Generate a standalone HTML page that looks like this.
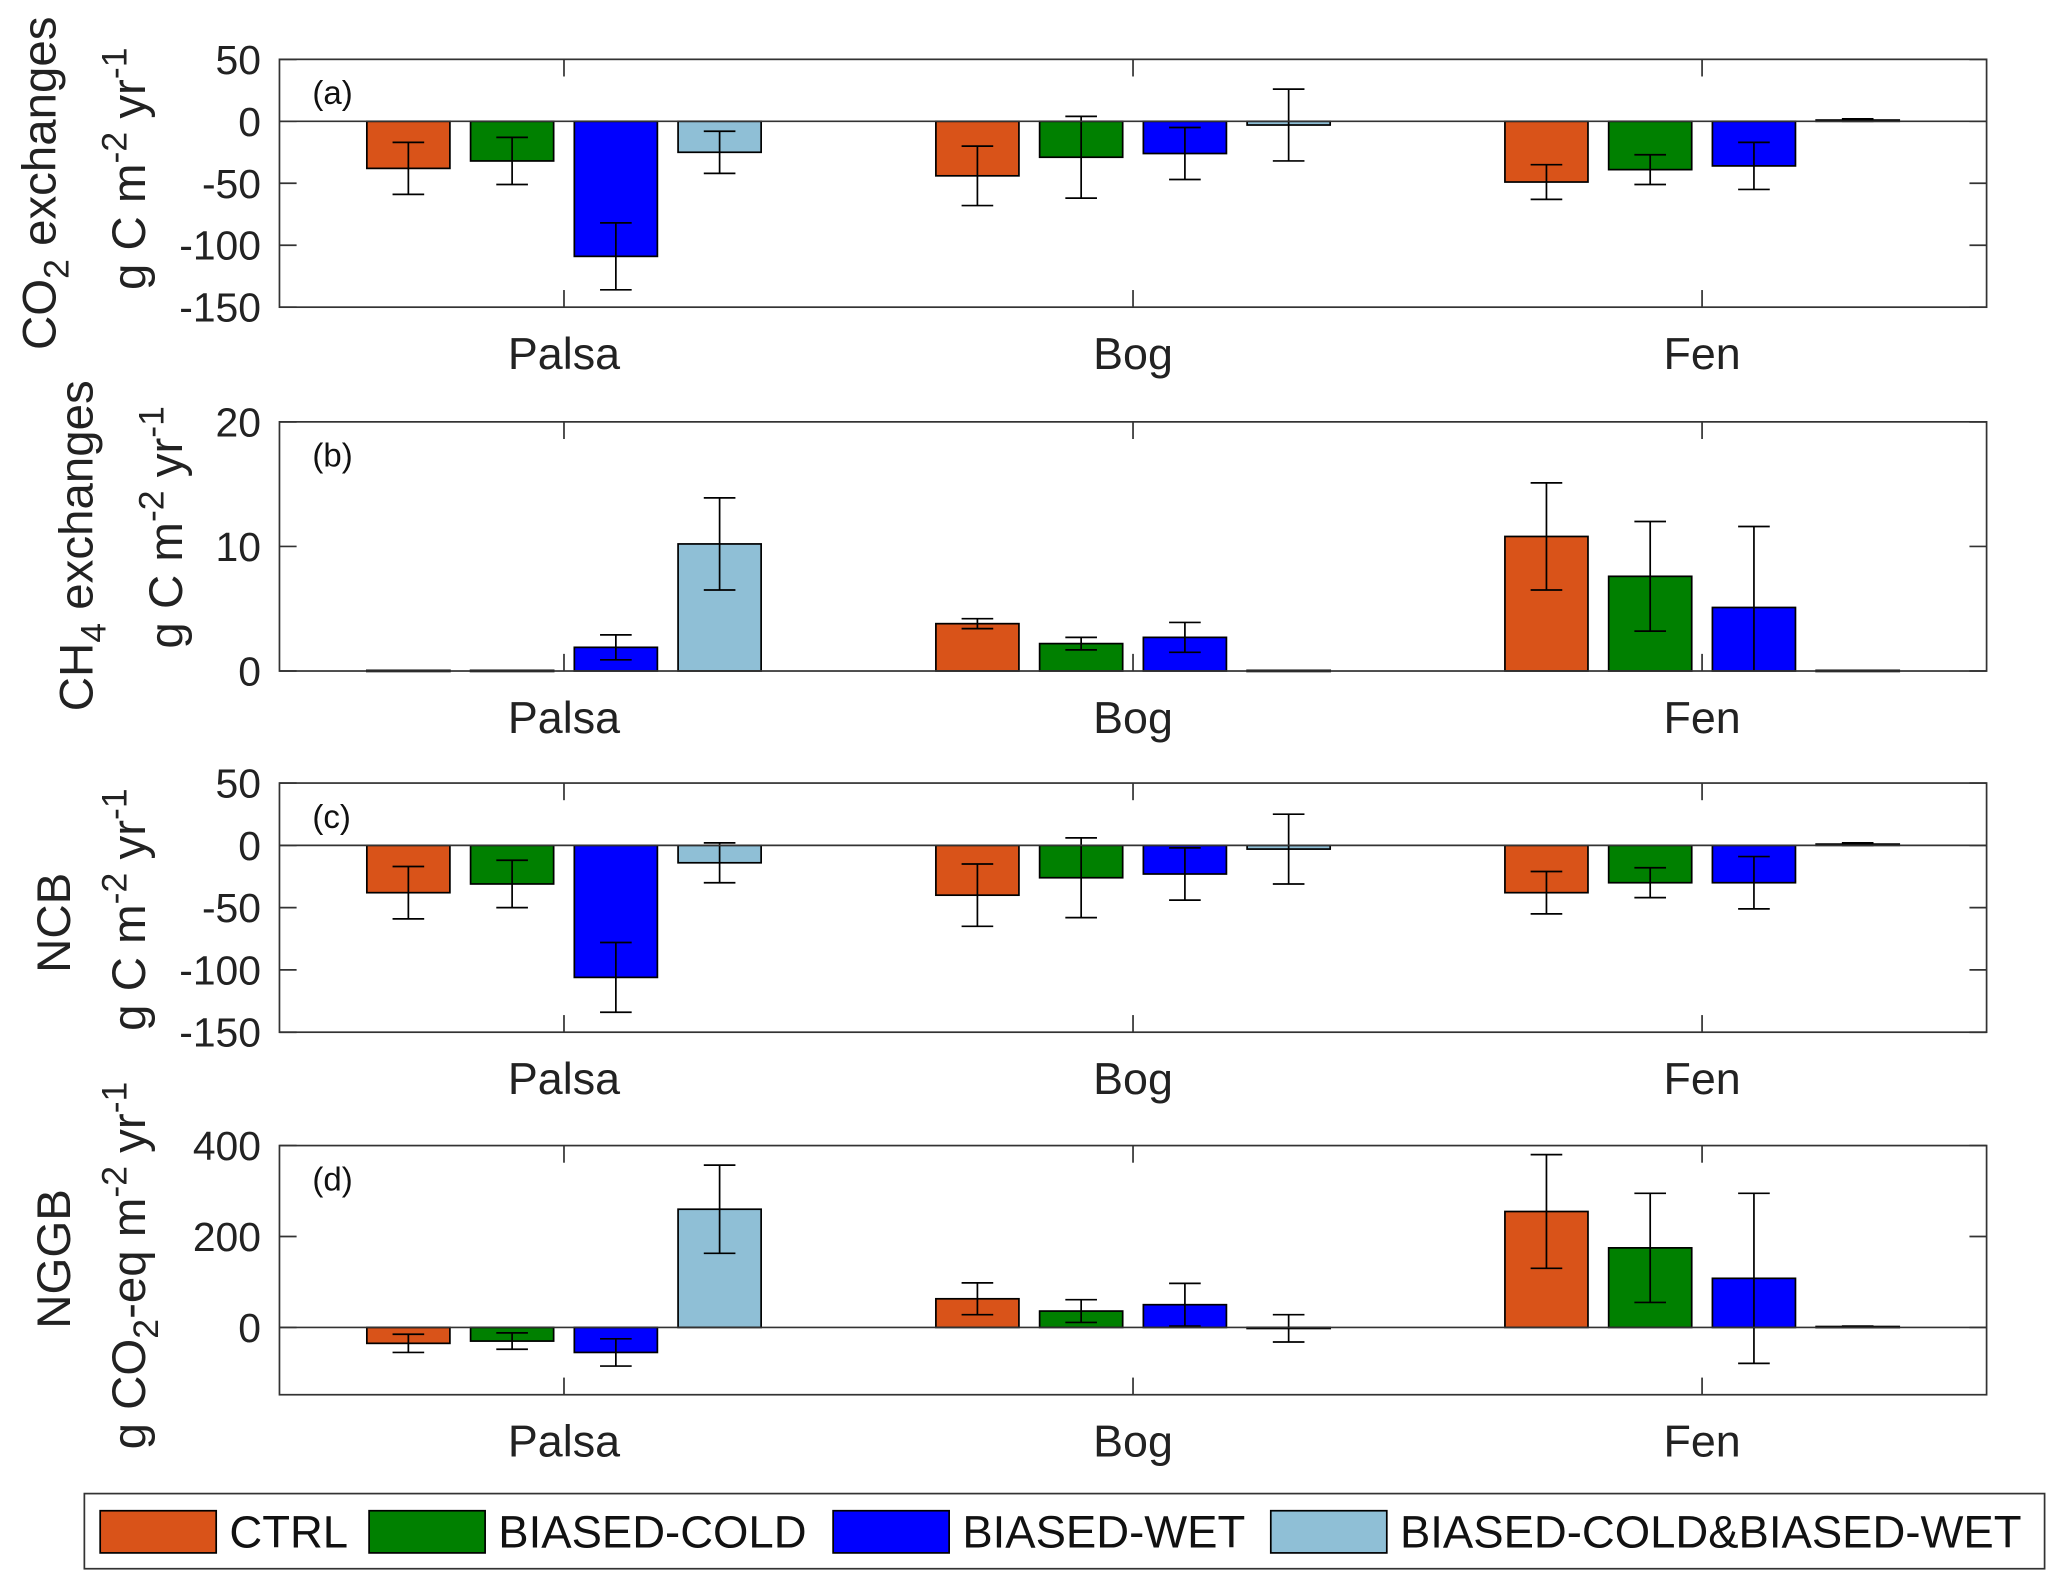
<!DOCTYPE html>
<html><head><meta charset="utf-8"><style>
html,body{margin:0;padding:0;background:#fff;}
svg{display:block;font-family:"Liberation Sans",Arial,sans-serif;}
</style></head><body>
<svg id="chart" width="2067" height="1588" viewBox="0 0 1568 1204.6" xmlns="http://www.w3.org/2000/svg"></svg>
<script>
const sites = ["Palsa","Bog","Fen"];
const seriesNames = ["CTRL","BIASED-COLD","BIASED-WET","BIASED-COLD&BIASED-WET"];
const colors = ["#d95319","#008000","#0000ff","#8fbfd6"];
// panel a: CO2 exchanges
const co2Vals = [[-38,-44,-49],[-32,-29,-39],[-109,-26,-36],[-25,-3,1]];
const co2Err  = [[21,24,14],[19,33,12],[27,21,19],[17,29,1]];
const co2Ticks = [50,0,-50,-100,-150];
// panel b: CH4 exchanges
const ch4Vals = [[0.05,3.8,10.8],[0.05,2.2,7.6],[1.9,2.7,5.1],[10.2,0.05,0.05]];
const ch4Err  = [[0,0.4,4.3],[0,0.5,4.4],[1,1.2,6.5],[3.7,0,0]];
const ch4Ticks = [20,10,0];
// panel c: NCB
const ncbVals = [[-38,-40,-38],[-31,-26,-30],[-106,-23,-30],[-14,-3,1]];
const ncbErr  = [[21,25,17],[19,32,12],[28,21,21],[16,28,1]];
const ncbTicks = [50,0,-50,-100,-150];
// panel d: NGGB
const nggbVals = [[-35,63,255],[-30,36,175],[-55,50,108],[260,-2,2]];
const nggbErr  = [[20,35,125],[18,25,120],[30,47,187],[97,30,1]];
const nggbTicks = [400,200,0];

const svg = document.getElementById('chart');
const NS = "http://www.w3.org/2000/svg";
function mk(tag, attrs, parent){
  const e = document.createElementNS(NS, tag);
  for (const k in attrs) e.setAttribute(k, attrs[k]);
  (parent||svg).appendChild(e); return e;
}
const X0 = 212, X1 = 1507;
function xScale(g){ return X0 + (g + 0.5) * (X1 - X0) / 3; }
const offsets = [-1.5,-0.5,0.5,1.5];
const step = 78.7, bw = 63;

const panels = [
  {id:"a", top:45, bot:233, ymin:-150, ymax:50, vals:co2Vals, err:co2Err, ticks:co2Ticks, zero:true,
   lab1:["CO","2"," exchanges"], lab1x:30, lab1y:139, lab2x:98, lab2y:128},
  {id:"b", top:320, bot:509, ymin:0, ymax:20, vals:ch4Vals, err:ch4Err, ticks:ch4Ticks, zero:false,
   lab1:["CH","4"," exchanges"], lab1x:58, lab1y:414, lab2x:126, lab2y:400},
  {id:"c", top:594, bot:783, ymin:-150, ymax:50, vals:ncbVals, err:ncbErr, ticks:ncbTicks, zero:true,
   lab1:["NCB","",""], lab1x:41, lab1y:700, lab2x:98, lab2y:690},
  {id:"d", top:869, bot:1058, ymin:-148, ymax:400, vals:nggbVals, err:nggbErr, ticks:nggbTicks, zero:true,
   lab1:["NGGB","",""], lab1x:41, lab1y:955, lab2x:98, lab2y:960, co2eq:true}
];

panels.forEach(p => {
  const g = mk('g', {});
  
  
  const y = v => p.bot - (v - p.ymin) * (p.bot - p.top) / (p.ymax - p.ymin);
  for (let s = 0; s < 4; s++) {
    for (let gi = 0; gi < 3; gi++) {
      const v = p.vals[s][gi], e = p.err[s][gi];
      const cx = xScale(gi) + offsets[s] * step;
      const y0 = y(0), yv = y(v);
      const r = mk('rect', {x:cx-bw/2, y:Math.min(y0,yv), width:bw, height:Math.max(Math.abs(yv-y0),0.8),
        fill:colors[s], stroke:'#000', 'stroke-width':1.3}, g);
      
      
      if (e > 0) {
        const eg = mk('g', {stroke:'#000','stroke-width':1.3}, g);
        
        
        const lo = Math.max(v - e, p.ymin), hi = Math.min(v + e, p.ymax);
        const ya = y(lo), yb = y(hi);
        mk('line', {x1:cx, x2:cx, y1:ya, y2:yb}, eg);
        if (v - e >= p.ymin) mk('line', {x1:cx-12, x2:cx+12, y1:ya, y2:ya}, eg);
        mk('line', {x1:cx-12, x2:cx+12, y1:yb, y2:yb}, eg);
      }
    }
  }
  if (p.zero) mk('line', {x1:X0, x2:X1, y1:y(0), y2:y(0), stroke:'#333','stroke-width':1.3}, g);
  const box = mk('rect', {x:X0, y:p.top, width:X1-X0, height:p.bot-p.top, fill:'none', stroke:'#333', 'stroke-width':1.3}, g);
  
  
  p.ticks.forEach(t => {
    const yy = y(t);
    mk('line', {x1:X0, x2:X0+13, y1:yy, y2:yy, stroke:'#333','stroke-width':1.3}, g);
    mk('line', {x1:X1-13, x2:X1, y1:yy, y2:yy, stroke:'#333','stroke-width':1.3}, g);
    const tx = mk('text', {x:198, y:yy+11, 'text-anchor':'end', 'font-size':31, fill:'#222'}, g);
    tx.textContent = t;
    
    
  });
  sites.forEach((sname, gi) => {
    const xx = xScale(gi);
    mk('line', {x1:xx, x2:xx, y1:p.top, y2:p.top+13, stroke:'#333','stroke-width':1.3}, g);
    mk('line', {x1:xx, x2:xx, y1:p.bot-13, y2:p.bot, stroke:'#333','stroke-width':1.3}, g);
    const tx = mk('text', {x:xx, y:p.bot+47, 'text-anchor':'middle', 'font-size':34, fill:'#222'}, g);
    tx.textContent = sname;
    
    
  });
  const pl = mk('text', {x:237, y:p.top+34, 'font-size':25, fill:'#111'}, g);
  pl.textContent = '(' + p.id + ')';
  
  
  const l1 = mk('text', {transform:`translate(${p.lab1x+12},${p.lab1y}) rotate(-90)`, 'text-anchor':'middle', 'font-size':36, fill:'#222'}, g);
  
  
  l1.innerHTML = p.lab1[0] + (p.lab1[1] ? `<tspan dy="10" font-size="27">${p.lab1[1]}</tspan><tspan dy="-10">${p.lab1[2]}</tspan>` : '');
  const l2 = mk('text', {transform:`translate(${p.lab2x+12},${p.lab2y}) rotate(-90)`, 'text-anchor':'middle', 'font-size':36, fill:'#222'}, g);
  
  
  if (p.co2eq) {
    l2.innerHTML = 'g CO<tspan dy="10" font-size="27">2</tspan><tspan dy="-10">-eq m</tspan><tspan dy="-14" font-size="27">-2</tspan><tspan dy="14"> yr</tspan><tspan dy="-14" font-size="27">-1</tspan>';
  } else {
    l2.innerHTML = 'g C m<tspan dy="-14" font-size="27">-2</tspan><tspan dy="14"> yr</tspan><tspan dy="-14" font-size="27">-1</tspan>';
  }
});

const lg = mk('g', {});


mk('rect', {x:64, y:1133, width:1487, height:57, fill:'#fff', stroke:'#333','stroke-width':1.3}, lg);
const swX = [76, 280, 632, 964];
seriesNames.forEach((n, i) => {
  const e = mk('g', {}, lg);
  
  
  mk('rect', {x:swX[i], y:1146, width:88, height:32, fill:colors[i], stroke:'#000','stroke-width':1.3}, e);
  const t = mk('text', {x:swX[i]+98, y:1174, 'font-size':34.5, fill:'#111'}, e);
  t.textContent = n;
});
</script>
</body></html>
